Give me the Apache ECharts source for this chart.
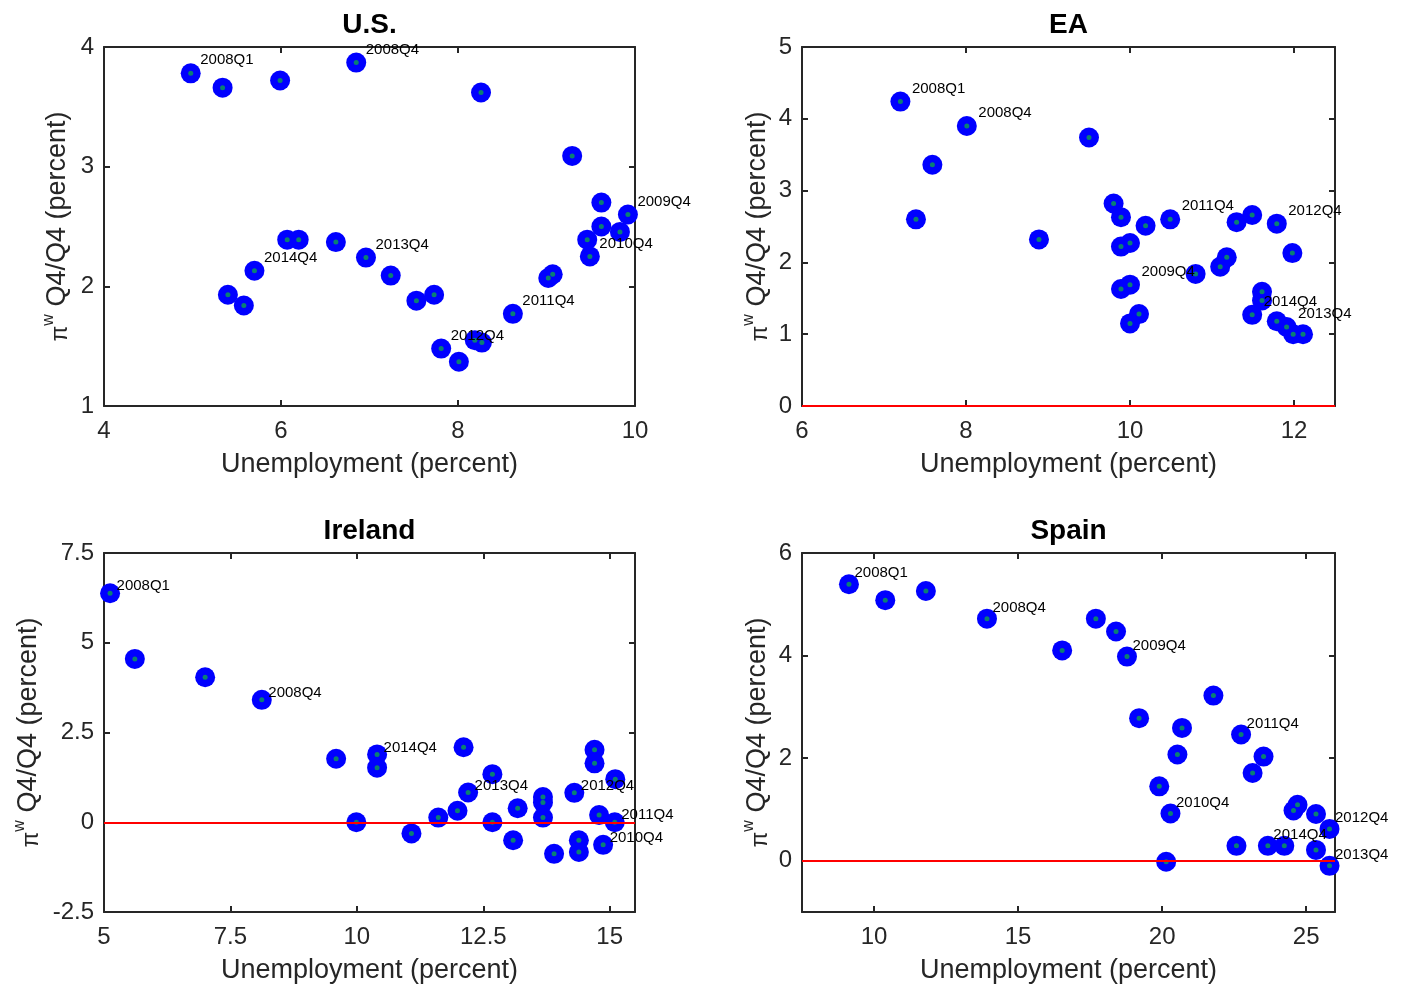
<!DOCTYPE html>
<html>
<head>
<meta charset="utf-8">
<script src="https://cdn.jsdelivr.net/npm/echarts@6/dist/echarts.min.js"></script>
<style>
  html, body { margin: 0; padding: 0; background: #fff; }
  #chart { width: 1404px; height: 988px; }
</style>
</head>
<body>
<div id="chart"></div>
<script>
// U.S.
const usUnemp = [4.98, 5.34, 5.99, 6.85, 8.26, 9.29, 9.62, 9.92, 9.62, 9.83, 9.46, 9.49, 9.07, 9.02, 8.62, 8.27, 8.19, 7.81, 8.01, 7.53, 7.73, 7.24, 6.96, 6.62, 6.20, 6.07, 5.70, 5.40, 5.58];
const usWage = [3.78, 3.66, 3.72, 3.87, 3.62, 3.09, 2.70, 2.60, 2.50, 2.455, 2.39, 2.25, 2.10, 2.07, 1.77, 1.53, 1.55, 1.48, 1.37, 1.88, 1.93, 2.09, 2.24, 2.37, 2.39, 2.39, 2.13, 1.93, 1.84];
const usTags = ["2008Q1", "", "", "2008Q4", "", "", "", "2009Q4", "", "", "", "2010Q4", "", "", "2011Q4", "", "", "2012Q4", "", "", "", "", "2013Q4", "", "", "", "2014Q4", "", ""];

// EA
const eaUnemp = [7.20, 7.59, 7.39, 8.01, 8.89, 9.50, 9.80, 9.89, 10.19, 10.49, 11.30, 11.49, 11.79, 11.98, 9.89, 10.00, 9.89, 10.00, 10.00, 10.11, 10.80, 11.10, 11.18, 11.61, 11.61, 11.49, 11.79, 11.91, 11.99, 12.11];
const eaWage = [4.24, 3.36, 2.60, 3.90, 2.32, 3.74, 2.82, 2.63, 2.51, 2.60, 2.56, 2.66, 2.54, 2.13, 2.22, 2.27, 1.63, 1.69, 1.15, 1.28, 1.84, 1.94, 2.07, 1.59, 1.47, 1.27, 1.18, 1.10, 1.00, 1.00];
const eaTags = ["2008Q1", "", "", "2008Q4", "", "", "", "", "", "2011Q4", "", "", "2012Q4", "", "", "", "", "2009Q4", "", "", "", "", "", "", "", "2014Q4", "", "2013Q4", "", ""];

// Ireland
const ieUnemp = [5.12, 5.61, 7.00, 8.12, 9.59, 10.40, 10.40, 9.99, 12.11, 12.68, 12.20, 11.99, 11.61, 11.08, 12.68, 13.09, 13.18, 13.68, 13.68, 13.68, 13.90, 14.39, 14.39, 14.30, 14.70, 14.70, 15.11, 14.79, 15.10, 14.87];
const ieWage = [6.38, 4.55, 4.04, 3.41, 1.77, 1.89, 1.52, 0.00, 2.09, 1.34, 0.83, 0.32, 0.13, -0.31, 0.00, -0.50, 0.39, 0.70, 0.55, 0.13, -0.88, -0.50, -0.83, 0.82, 2.02, 1.64, 1.20, 0.20, 0.00, -0.63];
const ieTags = ["2008Q1", "", "", "2008Q4", "", "2014Q4", "", "", "", "", "2013Q4", "", "", "", "", "", "", "", "", "", "", "", "", "2012Q4", "", "", "", "", "2011Q4", "2010Q4"];

// Spain
const esUnemp = [9.13, 10.39, 11.80, 13.92, 16.53, 17.70, 18.40, 18.78, 21.78, 19.20, 20.69, 22.74, 20.53, 23.52, 23.14, 19.90, 20.29, 24.70, 24.56, 25.34, 25.81, 22.58, 23.67, 24.24, 25.34, 20.14, 25.81];
const esWage = [5.39, 5.08, 5.26, 4.72, 4.10, 4.72, 4.47, 3.98, 3.22, 2.78, 2.59, 2.46, 2.07, 2.03, 1.71, 1.45, 0.92, 1.09, 0.98, 0.91, 0.62, 0.29, 0.29, 0.29, 0.21, -0.02, -0.10];
const esTags = ["2008Q1", "", "", "2008Q4", "", "", "", "2009Q4", "", "", "", "2011Q4", "", "", "", "", "2010Q4", "", "", "", "2012Q4", "", "2014Q4", "", "", "", "2013Q4"];

// axis ticks
const usXTicks = [4, 6, 8, 10], usYTicks = [1, 2, 3, 4];
const eaXTicks = [6, 8, 10, 12], eaYTicks = [0, 1, 2, 3, 4, 5];
const ieXTicks = [5, 7.5, 10, 12.5, 15], ieYTicks = [-2.5, 0, 2.5, 5, 7.5];
const esXTicks = [10, 15, 20, 25], esYTicks = [0, 2, 4, 6];

const titles = ["U.S.", "EA", "Ireland", "Spain"];

const ink = "#262626";
const font = "Liberation Sans";

let chart = echarts.init(document.getElementById("chart"));

let panels = [
  { grid: { left: 104, top: 47, width: 531, height: 359 }, xr: [4, 10], yr: [1, 4], xt: usXTicks, yt: usYTicks, xs: usUnemp, ys: usWage, tags: usTags, zero: false, off: [7, -13], yGap: 30 },
  { grid: { left: 802, top: 47, width: 533, height: 359 }, xr: [6, 12.5], yr: [0, 5], xt: eaXTicks, yt: eaYTicks, xs: eaUnemp, ys: eaWage, tags: eaTags, zero: true, off: [9, -13], yGap: 28 },
  { grid: { left: 104, top: 553, width: 531, height: 359 }, xr: [5, 15.5], yr: [-2.5, 7.5], xt: ieXTicks, yt: ieYTicks, xs: ieUnemp, ys: ieWage, tags: ieTags, zero: true, off: [4, -7], yGap: 59 },
  { grid: { left: 802, top: 553, width: 533, height: 359 }, xr: [7.5, 26], yr: [-1, 6], xt: esXTicks, yt: esYTicks, xs: esUnemp, ys: esWage, tags: esTags, zero: true, off: [3, -11], yGap: 28 },
];

let option = {
  backgroundColor: "#fff",
  animation: false,
  textStyle: { fontFamily: font },
  title: [],
  grid: [],
  xAxis: [],
  yAxis: [],
  series: [],
};

panels.forEach(function (p, i) {
  option.grid.push(p.grid);
  option.title.push({
    text: titles[i],
    left: p.grid.left + p.grid.width / 2,
    top: p.grid.top - 36,
    padding: 0,
    textAlign: "center",
    textStyle: { fontFamily: font, fontSize: 28, fontWeight: "bold", color: "#000" },
  });

  let line = { show: true, onZero: false, lineStyle: { color: ink, width: 2 } };
  let tickX = { show: true, inside: true, length: 6, lineStyle: { color: ink, width: 2 }, customValues: p.xt };
  let tickY = { show: true, inside: true, length: 6, lineStyle: { color: ink, width: 2 }, customValues: p.yt };

  // bottom + top x axes
  option.xAxis.push({
    type: "value", gridIndex: i, position: "bottom", min: p.xr[0], max: p.xr[1],
    axisLine: line, axisTick: tickX, splitLine: { show: false },
    axisLabel: { customValues: p.xt, margin: 13, fontSize: 24, color: ink, fontFamily: font },
    name: "Unemployment (percent)", nameLocation: "middle", nameGap: 45,
    nameTextStyle: { fontSize: 27, color: ink, fontFamily: font },
  });
  option.xAxis.push({
    type: "value", gridIndex: i, position: "top", min: p.xr[0], max: p.xr[1],
    axisLine: line, axisTick: tickX, splitLine: { show: false }, axisLabel: { show: false },
  });
  // left + right y axes
  option.yAxis.push({
    type: "value", gridIndex: i, position: "left", min: p.yr[0], max: p.yr[1],
    axisLine: line, axisTick: tickY, splitLine: { show: false },
    axisLabel: { customValues: p.yt, margin: 10, fontSize: 24, color: ink, fontFamily: font },
    name: "{pi|π}{sup|w} Q4/Q4 (percent)", nameLocation: "middle", nameGap: p.yGap, nameRotate: 90,
    nameTextStyle: {
      fontSize: 27, color: ink, fontFamily: font,
      rich: {
        pi: { fontSize: 23, color: ink, fontFamily: font, padding: [6, 0, 0, 0] },
        sup: { fontSize: 16, color: ink, fontFamily: font, padding: [0, 0, 17, 0] },
      },
    },
  });
  option.yAxis.push({
    type: "value", gridIndex: i, position: "right", min: p.yr[0], max: p.yr[1],
    axisLine: line, axisTick: tickY, splitLine: { show: false }, axisLabel: { show: false },
  });

  let pts = p.xs.map(function (x, k) {
    return [x, p.ys[k], p.tags[k]];
  });

  if (p.zero) {
    option.series.push({
      type: "line", xAxisIndex: 2 * i, yAxisIndex: 2 * i, data: [], z: 1, silent: true,
      markLine: {
        silent: true, symbol: "none", label: { show: false },
        lineStyle: { color: "#ff0000", width: 2, type: "solid" },
        data: [{ yAxis: 0 }],
      },
    });
  }
  // blue markers
  option.series.push({
    type: "scatter", xAxisIndex: 2 * i, yAxisIndex: 2 * i, z: 3,
    symbol: "circle", symbolSize: 20,
    itemStyle: { color: "#0000ff", opacity: 1 },
    emphasis: { disabled: true },
    data: pts,
  });
  // green centre dot + quarter tags
  option.series.push({
    type: "scatter", xAxisIndex: 2 * i, yAxisIndex: 2 * i, z: 4,
    symbol: "circle", symbolSize: 5,
    itemStyle: { color: "#0a7f74", opacity: 1 },
    emphasis: { disabled: true },
    label: {
      show: true, position: "right", distance: 0, offset: p.off,
      fontSize: 15, color: "#000", fontFamily: font,
      formatter: function (d) { return d.data[2]; },
    },
    data: pts,
  });
});

option && chart.setOption(option);
</script>
</body>
</html>
